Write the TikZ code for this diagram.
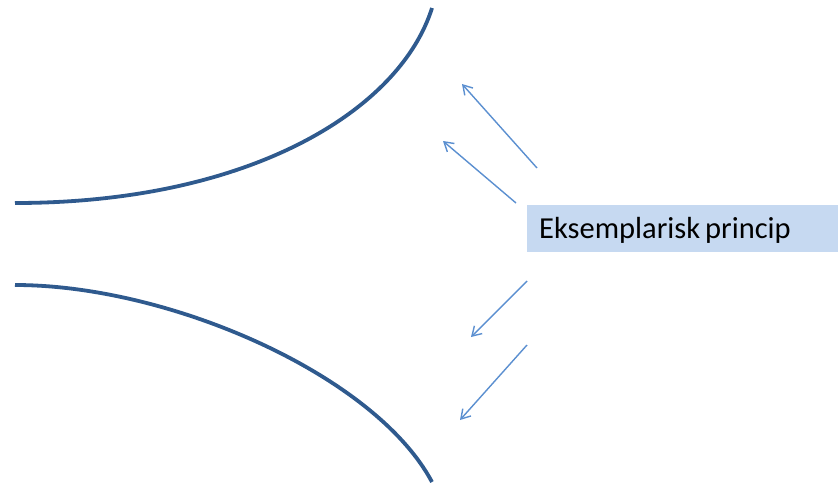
\documentclass[tikz,border=0pt]{standalone}
\usepackage{fontspec}
\setmainfont{Carlito}
\usetikzlibrary{arrows.meta,positioning}

\definecolor{curveblue}{HTML}{2F5A8E}
\definecolor{arrowblue}{HTML}{5B8FD0}
\definecolor{boxblue}{HTML}{C6D9F1}

\begin{document}
\begin{tikzpicture}[x=1pt,y=-1pt,
  curve/.style={draw=curveblue,line width=3.8pt},
  pointer/.style={draw=arrowblue,line width=1.4pt,-{Straight Barb[length=9pt,width=11pt,line width=1.4pt]}},
  label box/.style={fill=boxblue,anchor=west,minimum height=47pt,text width=287pt,inner xsep=12pt,inner ysep=0pt,
    text height=23pt,text depth=4pt,align=left,font=\fontsize{30.5}{36}\selectfont,
    execute at begin node={\spaceskip=5pt\relax}}]

\useasboundingbox (0,0) rectangle (838,485);

%Curve end points
\coordinate (UA) at (15,203);
\coordinate (UB) at (432,8);
\coordinate (LA) at (15,285);
\coordinate (LB) at (432,482);

%Drawing the two curves
\draw[curve] (UA) .. controls (250,203) and (400,110) .. (UB);
\draw[curve] (LA) .. controls (170,285) and (375,375) .. (LB);

%Label
\node[label box] (princip) at (527,228.5) {Eksemplarisk princip};

%Arrow coordinates
\coordinate (S1) at (537,168);
\coordinate (E1) at (462,84);
\coordinate (S2) at (516,203);
\coordinate (E2) at (443,141);
\coordinate (S3) at (527,281);
\coordinate (E3) at (471,337);
\coordinate (S4) at (527,345);
\coordinate (E4) at (460,420);

%Drawing arrows
\draw[pointer] (S1) -- (E1);
\draw[pointer] (S2) -- (E2);
\draw[pointer] (S3) -- (E3);
\draw[pointer] (S4) -- (E4);
\end{tikzpicture}
\end{document}
